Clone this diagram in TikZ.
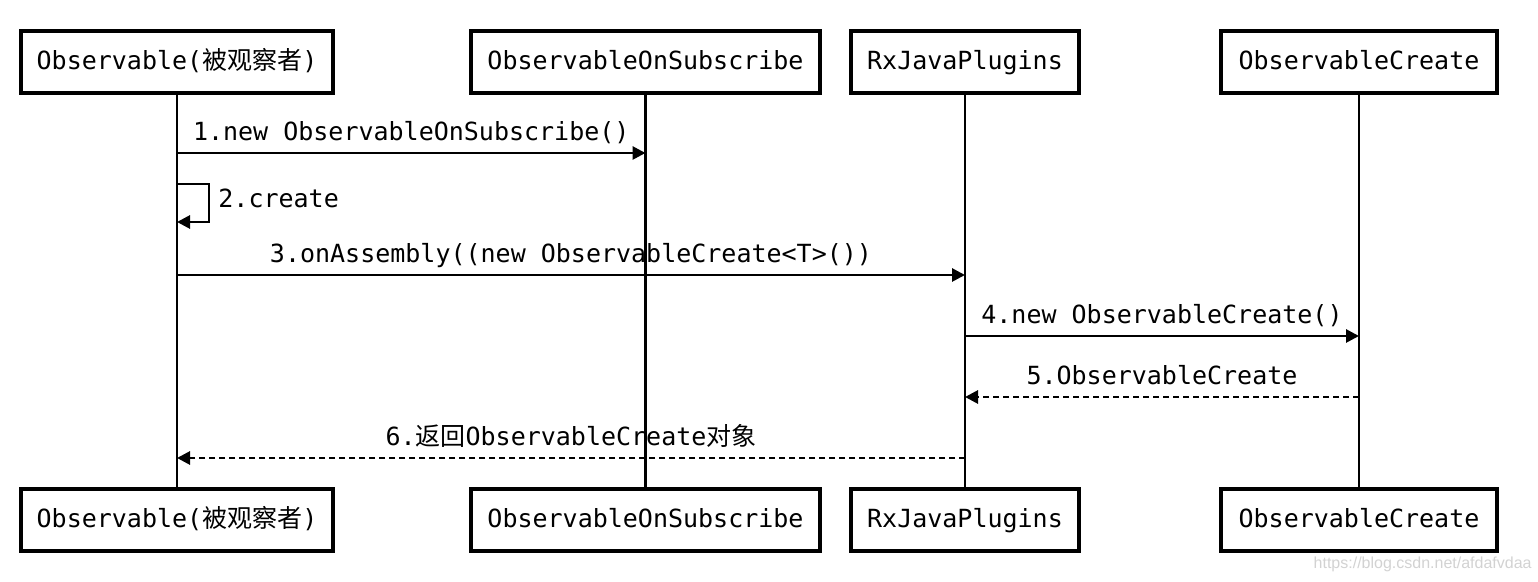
\documentclass[tikz,border=0pt]{standalone}
\usepackage{fontspec}
\usepackage{xcolor}
\setmonofont{DejaVu Sans Mono}
\newfontfamily\cjk{Noto Sans CJK SC}
\newfontfamily\wmfont{Liberation Sans}
\usetikzlibrary{arrows.meta,positioning,calc}

\tikzset{
  obj/.style={rectangle, draw, line width=1.6pt, minimum height=31pt, inner sep=0pt, text height=0.95em, text depth=0.15em, font=\ttfamily\fontsize{12.5pt}{15pt}\selectfont},
  life/.style={line width=1.2pt},
  msg/.style={line width=1.4pt, -{Triangle[length=6.5pt,width=6.5pt]}},
  ret/.style={msg, dash pattern=on 3pt off 2pt},
  lbl/.style={inner sep=0pt, text height=0.75em, text depth=0.25em, font=\ttfamily\fontsize{12.5pt}{15pt}\selectfont}
}

\begin{document}
\begin{tikzpicture}[x=0.5pt,y=-0.5pt]
\useasboundingbox (0,0) rectangle (1538,582);

\node[obj, minimum width=156pt] (obsTop) at (177,62) {Observable({\cjk 被观察者})};
\node[obj, minimum width=174.5pt] (subTop) at (645.5,62) {ObservableOnSubscribe};
\node[obj, minimum width=114pt] (rxTop) at (965,62) {RxJavaPlugins};
\node[obj, minimum width=138pt] (crTop) at (1359,62) {ObservableCreate};

\node[obj, minimum width=156pt] (obsBot) at (177,520) {Observable({\cjk 被观察者})};
\node[obj, minimum width=174.5pt] (subBot) at (645.5,520) {ObservableOnSubscribe};
\node[obj, minimum width=114pt] (rxBot) at (965,520) {RxJavaPlugins};
\node[obj, minimum width=138pt] (crBot) at (1359,520) {ObservableCreate};

\draw[life] (obsTop) -- (obsBot);
\draw[life] (subTop) -- (subBot);
\draw[life] (rxTop) -- (rxBot);
\draw[life] (crTop) -- (crBot);

\coordinate (o1) at (177,153);
\coordinate (s1) at (645.5,153);
\coordinate (o2a) at (177,184);
\coordinate (o2b) at (177,222);
\coordinate (o3) at (177,275);
\coordinate (r3) at (965,275);
\coordinate (r4) at (965,336);
\coordinate (c4) at (1359,336);
\coordinate (c5) at (1359,397);
\coordinate (r5) at (965,397);
\coordinate (r6) at (965,458);
\coordinate (o6) at (177,458);

\draw[msg] (o1) -- (s1) node[lbl, midway, above=3pt] (l1) {1.new ObservableOnSubscribe()};
\draw[msg] (o2a) -- ++(32,0) |- (o2b);
\node[lbl, anchor=base west] (l2) at (218,208) {2.create};
\draw[msg] (o3) -- (r3) node[lbl, midway, above=3pt] (l3) {3.onAssembly((new ObservableCreate<T>())};
\draw[msg] (r4) -- (c4) node[lbl, midway, above=3pt] (l4) {4.new ObservableCreate()};
\draw[ret] (c5) -- (r5) node[lbl, midway, above=3pt] (l5) {5.ObservableCreate};
\draw[ret] (r6) -- (o6) node[lbl, midway, above=3pt] (l6) {6.{\cjk 返回}ObservableCreate{\cjk 对象}};

\node[anchor=base east, inner sep=0pt, text=gray!35, font=\wmfont\fontsize{8pt}{9pt}\selectfont] (wm) at (1532,569) {https://blog.csdn.net/afdafvdaa};
\end{tikzpicture}
\end{document}
